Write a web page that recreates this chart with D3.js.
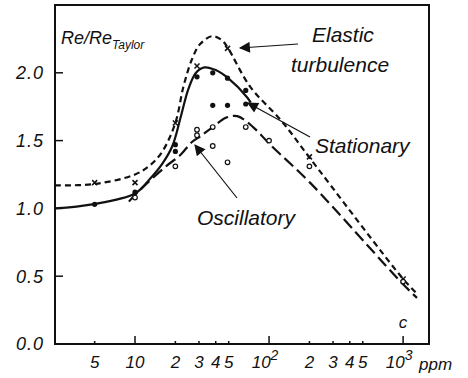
<!DOCTYPE html>
<html>
<head>
<meta charset="utf-8">
<script src="https://cdn.jsdelivr.net/npm/d3@7"></script>
<style>
  body { margin: 0; background: #fff; }
  text { font-family: "Liberation Sans", Arial, sans-serif; font-style: italic; fill: #111; }
</style>
</head>
<body>
<div id="chart"></div>
<script>
// curves: [ppm, Re/Re_Taylor]
let elasticCurve = [[2.53, 1.17], [5, 1.18], [10, 1.25], [13, 1.32], [16, 1.42], [20, 1.63], [23, 1.9], [26.6, 2.1], [30.5, 2.21], [37.5, 2.27], [44.5, 2.24], [49.5, 2.18], [72, 1.9], [125, 1.64], [202, 1.37], [1000, 0.48], [1270, 0.37]]
let stationaryCurve = [[2.53, 1.0], [4.8, 1.03], [10, 1.11], [13, 1.22], [16, 1.33], [19, 1.46], [22, 1.68], [25, 1.88], [28.5, 2.0], [33, 2.04], [40, 2.02], [49.5, 1.96], [68.5, 1.82], [73, 1.78]]
let oscillatoryCurve = [[9, 1.05], [11, 1.14], [17, 1.31], [21.6, 1.39], [26.6, 1.49], [30.5, 1.53], [38, 1.6], [48, 1.67], [58, 1.68], [76, 1.6], [102, 1.47], [202, 1.19], [1000, 0.44], [1270, 0.34]]

// measured points
let elasticPts = [[5, 1.19], [10, 1.19], [20, 1.63], [29, 2.05], [49, 2.18], [200, 1.38], [1000, 0.48]]
let stationaryPts = [[5, 1.03], [10, 1.12], [20, 1.47], [20, 1.42], [29, 1.97], [38, 2.0], [49, 1.96], [67, 1.87], [38, 1.76], [49, 1.76], [67, 1.77]]
let oscillatoryPts = [[10, 1.08], [20, 1.31], [29, 1.58], [29, 1.54], [38, 1.6], [38, 1.46], [49, 1.34], [67, 1.6], [100, 1.5], [200, 1.31], [1000, 0.46]]

let xTickValues = [5, 10, 20, 30, 40, 50, 100, 200, 300, 400, 500, 1000]
let xTickText = ['5', '10', '2', '3', '4', '5', '10^2', '2', '3', '4', '5', '10^3']
let yTickValues = [0, 0.5, 1.0, 1.5, 2.0]
let yTickText = ['0.0', '0.5', '1.0', '1.5', '2.0']

let width = 468
let height = 378

let svg = d3.select('#chart').append('svg')
  .attr('width', width)
  .attr('height', height)

let xScale = d3.scaleLog().domain([2.53, 1560]).range([55, 429])
let yScale = d3.scaleLinear().domain([0, 2.5]).range([344, 5])

// frame
svg.append('rect')
  .attr('x', 55).attr('y', 5)
  .attr('width', 374).attr('height', 339)
  .attr('fill', 'none')
  .attr('stroke', '#111')
  .attr('stroke-width', 2)

// y ticks + labels
svg.selectAll('.y-tick')
  .data(yTickValues.filter(d => d > 0))
  .enter().append('line')
  .attr('x1', 55).attr('x2', 63)
  .attr('y1', d => yScale(d)).attr('y2', d => yScale(d))
  .attr('stroke', '#111').attr('stroke-width', 1.5)

svg.selectAll('.y-label')
  .data(yTickValues)
  .enter().append('text')
  .attr('x', 44)
  .attr('y', d => yScale(d))
  .attr('dy', '0.36em')
  .attr('text-anchor', 'end')
  .attr('font-size', 18)
  .attr('letter-spacing', 1)
  .text((d, i) => yTickText[i])

// x ticks: decades long, the rest short
svg.selectAll('.x-tick')
  .data(xTickValues)
  .enter().append('line')
  .attr('x1', d => xScale(d)).attr('x2', d => xScale(d))
  .attr('y1', 344)
  .attr('y2', d => [10, 100, 1000].includes(d) ? 336 : 341)
  .attr('stroke', '#111').attr('stroke-width', 1.5)

let xl = svg.selectAll('.x-label')
  .data(xTickValues)
  .enter().append('text')
  .attr('x', (d, i) => xScale(d) - (xTickText[i].includes('^') ? 4 : 0))
  .attr('y', 368)
  .attr('text-anchor', 'middle')
  .attr('font-size', 17)

xl.each(function(d, i) {
  let parts = xTickText[i].split('^')
  let t = d3.select(this)
  t.append('tspan').text(parts[0])
  if (parts[1]) {
    t.append('tspan').attr('dy', -8).attr('font-size', 14).text(parts[1])
  }
})

svg.append('text')
  .attr('x', 419).attr('y', 370)
  .attr('font-size', 17)
  .text('ppm')

svg.append('text')
  .attr('x', xScale(1000)).attr('y', 328)
  .attr('text-anchor', 'middle')
  .attr('font-size', 17)
  .text('c')

// y title
let title = svg.append('text')
  .attr('x', 61).attr('y', 44)
  .attr('font-size', 18)
title.append('tspan').text('Re/Re')
title.append('tspan').attr('dy', 5).attr('font-size', 12).text('Taylor')

let line = d3.line()
  .x(d => xScale(d[0]))
  .y(d => yScale(d[1]))
  .curve(d3.curveCatmullRom.alpha(0.5))

svg.append('path')
  .datum(elasticCurve)
  .attr('d', line)
  .attr('fill', 'none').attr('stroke', '#111')
  .attr('stroke-width', 2.2)
  .attr('stroke-dasharray', '6,4')

svg.append('path')
  .datum(stationaryCurve)
  .attr('d', line)
  .attr('fill', 'none').attr('stroke', '#111')
  .attr('stroke-width', 2.2)

svg.append('path')
  .datum(oscillatoryCurve)
  .attr('d', line)
  .attr('fill', 'none').attr('stroke', '#111')
  .attr('stroke-width', 2.2)
  .attr('stroke-dasharray', '12,5')

// markers
svg.selectAll('.pt-x')
  .data(elasticPts)
  .enter().append('path')
  .attr('d', 'M-2.5,-2.5L2.5,2.5M-2.5,2.5L2.5,-2.5')
  .attr('transform', d => `translate(${xScale(d[0])},${yScale(d[1])})`)
  .attr('stroke', '#111').attr('stroke-width', 1.5)

svg.selectAll('.pt-dot')
  .data(stationaryPts)
  .enter().append('circle')
  .attr('cx', d => xScale(d[0])).attr('cy', d => yScale(d[1]))
  .attr('r', 2.6)
  .attr('fill', '#111')

svg.selectAll('.pt-o')
  .data(oscillatoryPts)
  .enter().append('circle')
  .attr('cx', d => xScale(d[0])).attr('cy', d => yScale(d[1]))
  .attr('r', 2.3)
  .attr('fill', '#fff')
  .attr('stroke', '#111').attr('stroke-width', 1.2)

// annotations with arrows
svg.append('defs').append('marker')
  .attr('id', 'head')
  .attr('viewBox', '0 0 10 10')
  .attr('refX', 9).attr('refY', 5)
  .attr('markerWidth', 13).attr('markerHeight', 11)
  .attr('markerUnits', 'userSpaceOnUse')
  .attr('orient', 'auto')
  .append('path')
  .attr('d', 'M0,0L10,5L0,10Z')
  .attr('fill', '#111')

let arrows = [
  [298, 44, 240, 48],
  [310, 137, 248, 103],
  [237, 198, 195, 145]
]
svg.selectAll('.arrow')
  .data(arrows)
  .enter().append('line')
  .attr('x1', d => d[0]).attr('y1', d => d[1])
  .attr('x2', d => d[2]).attr('y2', d => d[3])
  .attr('stroke', '#111').attr('stroke-width', 1.2)
  .attr('marker-end', 'url(#head)')

svg.append('text').attr('x', 312).attr('y', 42).attr('font-size', 21).text('Elastic')
svg.append('text').attr('x', 291).attr('y', 72).attr('font-size', 21).text('turbulence')
svg.append('text').attr('x', 315).attr('y', 153).attr('font-size', 21).text('Stationary')
svg.append('text').attr('x', 197).attr('y', 225).attr('font-size', 21).text('Oscillatory')
</script>
</body>
</html>
